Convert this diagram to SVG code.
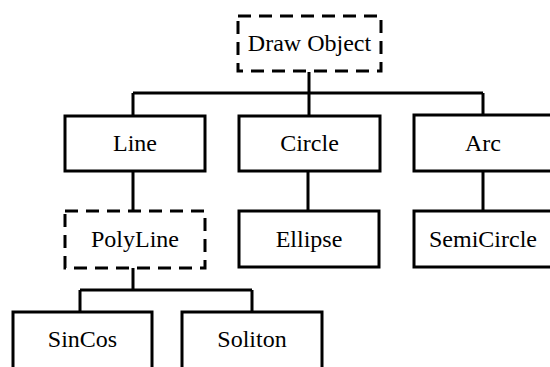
<svg xmlns="http://www.w3.org/2000/svg" width="550" height="367" viewBox="0 0 550 367">
  <style>
    .box { fill: #fff; stroke: #000; stroke-width: 3; }
    .abstract { stroke-dasharray: 13 8; }
    .link { fill: none; stroke: #000; stroke-width: 3; }
    .label { font-family: 'Liberation Serif', 'DejaVu Serif', serif; font-size: 24px; fill: #000; text-anchor: middle; }
  </style>
  <rect width="550" height="367" fill="#fff"/>

  <g id="connectors">
    <path class="link" d="M309,72 V93 M133,93 H483 M133,93 V115 M309,93 V115 M483,93 V115"/>
    <path class="link" d="M133,171 V211 M308,171 V211 M483,171 V211"/>
    <path class="link" d="M133,268 V290 M80,290 H252 M80,290 V312 M252,290 V312"/>
  </g>

  <g id="draw-object">
    <rect class="box abstract" x="238" y="16" width="143" height="55"/>
    <text class="label" x="309.5" y="51" font-family="Liberation Serif, serif">Draw Object</text>
  </g>
  <g id="line">
    <rect class="box" x="65" y="116" width="140" height="55"/>
    <text class="label" x="135" y="151" font-family="Liberation Serif, serif">Line</text>
  </g>
  <g id="circle">
    <rect class="box" x="239" y="116" width="141" height="55"/>
    <text class="label" x="309.5" y="151" font-family="Liberation Serif, serif">Circle</text>
  </g>
  <g id="arc">
    <rect class="box" x="414" y="115" width="146" height="56"/>
    <text class="label" x="483" y="151" font-family="Liberation Serif, serif">Arc</text>
  </g>
  <g id="polyline">
    <rect class="box abstract" x="65" y="211" width="140" height="57"/>
    <text class="label" x="135" y="247" font-family="Liberation Serif, serif">PolyLine</text>
  </g>
  <g id="ellipse">
    <rect class="box" x="239" y="211" width="140" height="56"/>
    <text class="label" x="309" y="247" font-family="Liberation Serif, serif">Ellipse</text>
  </g>
  <g id="semicircle">
    <rect class="box" x="414" y="211" width="146" height="56"/>
    <text class="label" x="483" y="247" font-family="Liberation Serif, serif">SemiCircle</text>
  </g>
  <g id="sincos">
    <rect class="box" x="13" y="312" width="139" height="70"/>
    <text class="label" x="82.5" y="347" font-family="Liberation Serif, serif">SinCos</text>
  </g>
  <g id="soliton">
    <rect class="box" x="182" y="312" width="140" height="70"/>
    <text class="label" x="252" y="347" font-family="Liberation Serif, serif">Soliton</text>
  </g>
</svg>
